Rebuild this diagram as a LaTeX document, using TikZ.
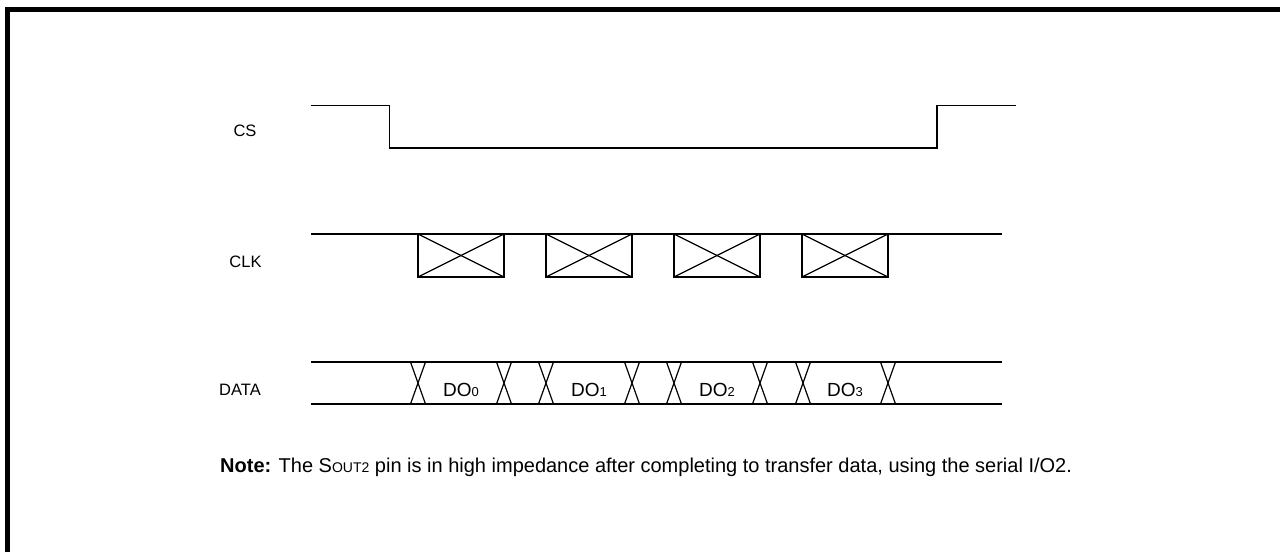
\documentclass[tikz,border=0pt]{standalone}
\usepackage{fontspec}
\setmainfont{Liberation Sans}
\begin{document}
\begin{tikzpicture}[x=1pt,y=-1pt,
  sig/.style={line width=1.2pt,black},
  frame/.style={line width=5pt,black},
  lbl/.style={font=\fontsize{16.5}{19}\selectfont,inner sep=0pt},
  dlbl/.style={font=\fontsize{19}{22}\selectfont,inner sep=0pt}]
\useasboundingbox (0,0) rectangle (1280,552);
\fill[white] (0,0) rectangle (1280,552);
% frame
\draw[frame] (7.5,552) -- (7.5,9.5) -- (1280,9.5);
% labels
\node[lbl] (cs) at (245,131) {CS};
\node[lbl] (clk) at (245.5,262) {CLK};
\node[lbl] (data) at (240,390) {DATA};
% CS
\draw[sig] (311,105.5) -- (389.5,105.5) -- (389.5,148) -- (937,148) -- (937,105.5) -- (1016,105.5);
% CLK
\draw[sig] (311,234) -- (1002,234);
\foreach \a in {418,546,674,802}{
  \draw[sig] (\a,234) rectangle (\a+86,277);
  \draw[sig] (\a,234) -- (\a+86,277);
  \draw[sig] (\a,277) -- (\a+86,234);
}
% DATA
\draw[sig] (311,362) -- (1002,362);
\draw[sig] (311,404) -- (1002,404);
\foreach \a in {418,504,546,632,674,760,803,888}{
  \draw[sig] (\a-7.5,362) -- (\a+7.5,404);
  \draw[sig] (\a+7.5,362) -- (\a-7.5,404);
}
\node[dlbl] (d0) at (461,390) {DO{\fontsize{13}{15}\selectfont 0}};
\node[dlbl] (d1) at (589,390) {DO{\fontsize{13}{15}\selectfont 1}};
\node[dlbl] (d2) at (717,390) {DO{\fontsize{13}{15}\selectfont 2}};
\node[dlbl] (d3) at (845,390) {DO{\fontsize{13}{15}\selectfont 3}};
% note
\node[anchor=west,inner sep=0pt,font=\fontsize{20}{24}\selectfont] (note) at (220,467) {\textbf{Note:} The S{\fontsize{14}{16}\selectfont OUT2} pin is in high impedance after completing to transfer data, using the serial I/O2.};
\end{tikzpicture}
\end{document}
